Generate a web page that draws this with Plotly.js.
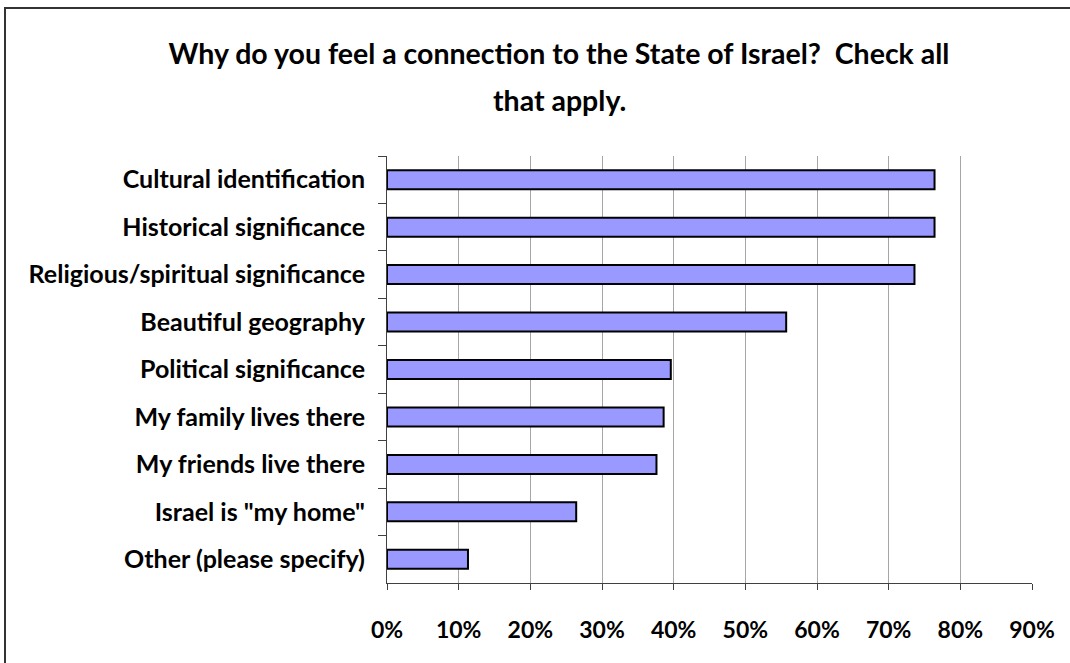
<!DOCTYPE html>
<html>
<head>
<meta charset="utf-8">
<script src="https://cdn.plot.ly/plotly-3.0.1.min.js"></script>
<style>
  html, body { margin: 0; padding: 0; background: #ffffff; overflow: hidden; }
  #wrap { position: relative; width: 1070px; height: 663px; overflow: hidden; }
  #chart { width: 1070px; height: 663px; }
  #frame { position: absolute; left: 4px; top: 7px; width: 2000px; height: 2000px;
           border-left: 2px solid #333333; border-top: 2px solid #333333; pointer-events: none; }
</style>
</head>
<body>
<div id="wrap">
  <div id="chart"></div>
  <div id="frame"></div>
</div>
<script>
var categories = [
  "Cultural identification",
  "Historical significance",
  "Religious/spiritual significance",
  "Beautiful geography",
  "Political significance",
  "My family lives there",
  "My friends live there",
  "Israel is \"my home\"",
  "Other (please specify)"
];
var values = [0.764, 0.764, 0.736, 0.557, 0.396, 0.386, 0.376, 0.264, 0.113];
var xTickValues = [0, 0.1, 0.2, 0.3, 0.4, 0.5, 0.6, 0.7, 0.8, 0.9];
var titleLine1 = "Why do you feel a connection to the State of Israel?&nbsp; Check all";
var titleLine2 = "that apply.";

var FONT = "Lato, 'Open Sans', sans-serif";

var trace = {
  type: "bar",
  orientation: "h",
  y: categories,
  x: values,
  marker: { color: "#9999FF", line: { color: "#000000", width: 2 } },
  hoverinfo: "x+y"
};

var layout = {
  width: 1070,
  height: 663,
  margin: { l: 387, r: 38, t: 156, b: 80 },
  paper_bgcolor: "#ffffff",
  plot_bgcolor: "#ffffff",
  showlegend: false,
  bargap: 0.6,
  font: { family: FONT, color: "#000000" },
  title: {
    text: titleLine1,
    font: { family: FONT, size: 28.5, weight: "bold", color: "#000000" },
    xref: "container", x: 0.5224, xanchor: "center",
    yref: "container", y: 1 - 54 / 663, yanchor: "middle"
  },
  annotations: [{
    text: titleLine2,
    xref: "paper", yref: "paper",
    x: (559 - 387) / 645, y: (583 - 100) / 427,
    xanchor: "center", yanchor: "middle",
    showarrow: false,
    font: { family: FONT, size: 28.5, weight: "bold", color: "#000000" }
  }],
  xaxis: {
    range: [0, 0.9],
    tickvals: xTickValues,
    tickformat: ".0%",
    showgrid: true,
    gridcolor: "#a6a6a6",
    gridwidth: 1,
    zeroline: false,
    showline: true,
    linecolor: "#404040",
    linewidth: 1,
    ticks: "outside",
    ticklen: 6,
    tickcolor: "#404040",
    ticklabelstandoff: 20,
    tickfont: { family: FONT, size: 23, weight: "bold", color: "#000000" },
    fixedrange: true
  },
  yaxis: {
    type: "category",
    range: [8.5, -0.5],
    showgrid: false,
    zeroline: false,
    showline: true,
    linecolor: "#404040",
    linewidth: 1,
    ticks: "outside",
    tickson: "boundaries",
    ticklen: 8,
    tickcolor: "#404040",
    ticklabelstandoff: 16,
    tickfont: { family: FONT, size: 25, weight: "bold", color: "#000000" },
    fixedrange: true
  }
};

Plotly.newPlot("chart", [trace], layout, { displayModeBar: false, staticPlot: true });
</script>
</body>
</html>
